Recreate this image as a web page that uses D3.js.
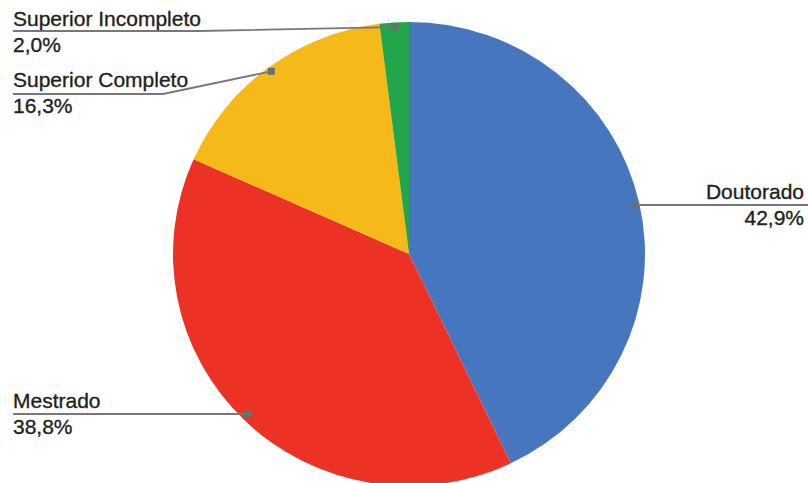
<!DOCTYPE html>
<html>
<head>
<meta charset="utf-8">
<script src="https://cdn.jsdelivr.net/npm/d3@7"></script>
<style>
  html, body { margin: 0; padding: 0; background: #fff; }
  svg { display: block; }
</style>
</head>
<body>
<svg id="chart" width="808" height="483"></svg>
<script>
const categories = ["Doutorado", "Mestrado", "Superior Completo", "Superior Incompleto"];
const values = [42.9, 38.8, 16.3, 2.0];
const valueLabels = ["42,9%", "38,8%", "16,3%", "2,0%"];
const colors = ["#4677BE", "#EC3224", "#F6B91A", "#21A64B"];

const svg = d3.select("#chart");
const cx = 409, cy = 254, rx = 236, ry = 232;

const data = categories.map((c, i) => ({ cat: c, value: values[i], label: valueLabels[i], color: colors[i] }));
const pie = d3.pie().sort(null).value(d => d.value)(data);

const arc = d3.arc().innerRadius(0).outerRadius(rx);
const g = svg.append("g").attr("transform", `translate(${cx},${cy}) scale(1,${ry / rx})`);
g.selectAll("path").data(pie).join("path")
  .attr("d", arc)
  .attr("fill", d => d.data.color);

// dot positions on the slices
const dotArc = d3.arc().innerRadius(rx * 0.98).outerRadius(rx * 0.98);
function dotPos(d) {
  const c = dotArc.centroid(d);
  return [cx + c[0], cy + c[1] * ry / rx];
}

// label layout (positions only)
const layout = {
  "Doutorado":           { anchor: "end",   tx: 804, base: 199, lineY: 205, elbowX: null, endX: 808 },
  "Mestrado":            { anchor: "start", tx: 13,  base: 408, lineY: 414, elbowX: null, endX: 13 },
  "Superior Completo":   { anchor: "start", tx: 13,  base: 87,  lineY: 94,  elbowX: 163,  endX: 13 },
  "Superior Incompleto": { anchor: "start", tx: 13,  base: 26,  lineY: 31,  elbowX: 200,  endX: 13 }
};

const lines = svg.append("g");
const labels = svg.append("g")
  .attr("font-family", "'Liberation Sans', Arial, Helvetica, sans-serif")
  .attr("font-size", 21)
  .attr("fill", "#231f20")
  .attr("stroke", "#231f20")
  .attr("stroke-width", 0.35);

pie.forEach(d => {
  const L = layout[d.data.cat];
  const [px, py] = dotPos(d);
  let pts;
  if (L.elbowX === null) {
    pts = [[px, L.lineY], [L.endX, L.lineY]];
  } else {
    pts = [[px, py], [L.elbowX, L.lineY], [L.endX, L.lineY]];
  }
  const dotY = L.elbowX === null ? L.lineY : py;
  lines.append("path")
    .attr("d", d3.line()(pts))
    .attr("fill", "none")
    .attr("stroke", "#76777a")
    .attr("stroke-width", 1.8);
  lines.append("rect")
    .attr("x", px - 3.5).attr("y", dotY - 3.5)
    .attr("width", 7).attr("height", 7)
    .attr("fill", "#6d6e71");
  labels.append("text")
    .attr("x", L.tx).attr("y", L.base)
    .attr("text-anchor", L.anchor)
    .text(d.data.cat);
  labels.append("text")
    .attr("x", L.tx).attr("y", L.base + 26)
    .attr("text-anchor", L.anchor)
    .text(d.data.label);
});
</script>
</body>
</html>
